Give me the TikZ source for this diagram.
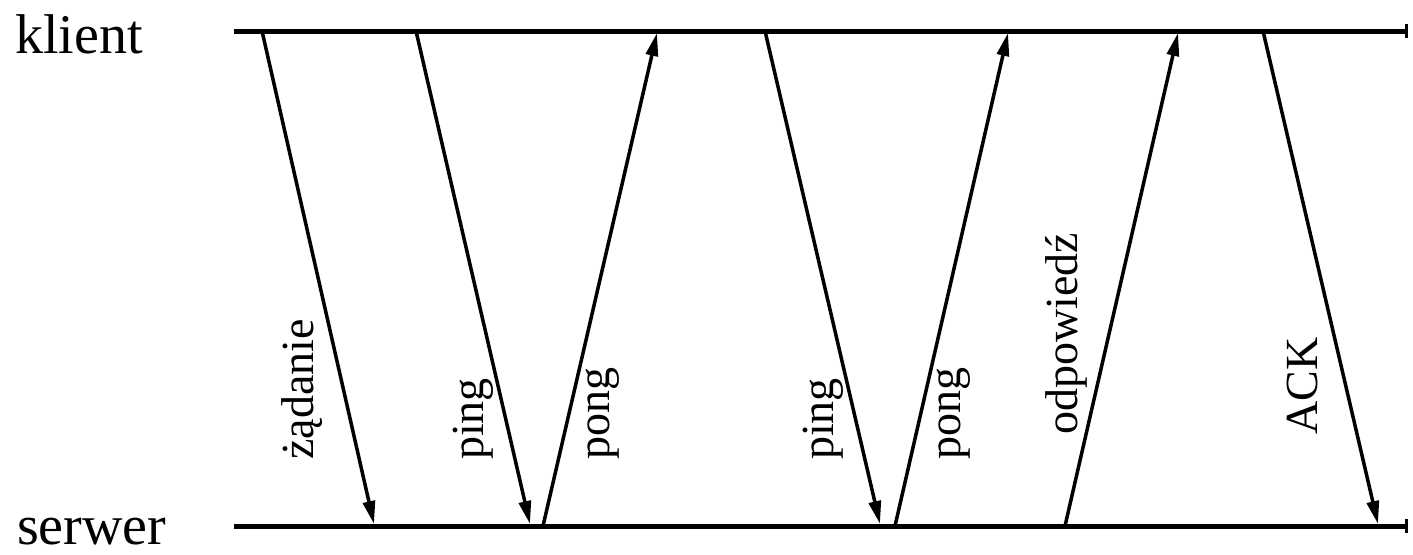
\documentclass[tikz,border=0pt]{standalone}
\usepackage{fontspec}
\setmainfont{Liberation Serif}
\usetikzlibrary{arrows.meta}
\tikzset{
	timeline/.style={line width=5pt, -{Bar[width=14pt,line width=3pt]}},
	msg/.style={line width=3.5pt, -{Triangle[length=23pt,width=12pt]}},
	msglabel/.style={rotate=90, anchor=base west, inner sep=0pt, font=\fontsize{46}{50}\selectfont},
	hostlabel/.style={anchor=base west, inner sep=0pt, font=\fontsize{56}{60}\selectfont}
}

\begin{document}
\begin{tikzpicture}[x=1pt, y=-1pt]
			%%%%% START %%%%%
			\useasboundingbox (0, 0) rectangle (1413, 554);
			
			\node[hostlabel] (klient) at (15, 53) {klient};
			\node[hostlabel] (serwer) at (17, 544) {serwer};
			
			\coordinate (kA) at (234, 31);
			\coordinate (kB) at (1408, 31);
			\coordinate (sA) at (234, 526);
			\coordinate (sB) at (1408, 526);
			\draw[timeline] (kA) -- (kB);
			\draw[timeline] (sA) -- (sB);
			
			% wiadomosci
			\coordinate (k1) at (262, 31);   \coordinate (s1) at (374, 524);
			\coordinate (k2) at (416, 31);   \coordinate (s2) at (530, 524);
			\coordinate (s3) at (543, 526);  \coordinate (k3) at (657, 33);
			\coordinate (k4) at (765, 31);   \coordinate (s4) at (880, 524);
			\coordinate (s5) at (895, 526);  \coordinate (k5) at (1008, 33);
			\coordinate (s6) at (1065, 526); \coordinate (k6) at (1178, 33);
			\coordinate (k7) at (1263, 31);  \coordinate (s7) at (1378, 524);
			
			\draw[msg] (k1) -- (s1);
			\draw[msg] (k2) -- (s2);
			\draw[msg] (s3) -- (k3);
			\draw[msg] (k4) -- (s4);
			\draw[msg] (s5) -- (k5);
			\draw[msg] (s6) -- (k6);
			\draw[msg] (k7) -- (s7);
			
			\node[msglabel] (zadanie) at (313, 460) {żądanie};
			\node[msglabel] (ping1) at (483, 460) {ping};
			\node[msglabel] (pong1) at (609, 460) {pong};
			\node[msglabel] (ping2) at (833, 460) {ping};
			\node[msglabel] (pong2) at (960, 460) {pong};
			\node[msglabel] (odp) at (1077, 435) {odpowiedź};
			\node[msglabel] (ack) at (1317, 435) {ACK};
			
			%%%%% END %%%%%
\end{tikzpicture}
\end{document}
